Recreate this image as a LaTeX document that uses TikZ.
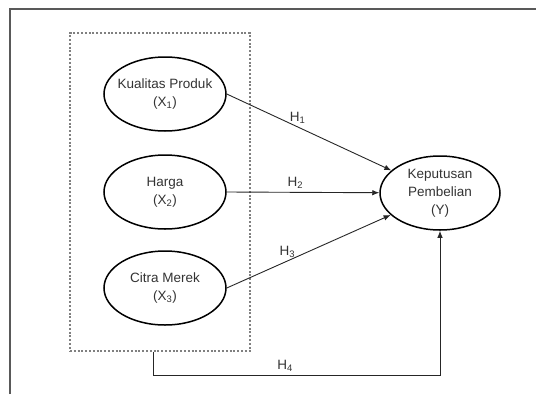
\documentclass[tikz,border=0pt]{standalone}
\usepackage{fontspec}
\setmainfont{Liberation Sans}
\usetikzlibrary{shapes.geometric}
\usetikzlibrary{arrows.meta}

\begin{document}
\begin{tikzpicture}[x=1pt, y=-1pt,
    var/.style={ellipse, draw=black, line width=1.5pt, minimum width=122pt,
        minimum height=74pt, inner sep=0pt, align=center,
        font=\fontsize{13.5}{18}\selectfont, text=black!80},
    link/.style={color=black!85, line width=0.9pt, -{Latex[length=7pt, width=5.5pt]}},
    hyp/.style={font=\fontsize{13.5}{15}\selectfont, inner sep=3pt, text=black!80}]
    \useasboundingbox (0,0) rectangle (536,394);
    \draw[color=black!65, line width=2pt] (10,394) -- (10,9) -- (536,9);

    \node[draw=black!50, line width=1.1pt, dash pattern=on 2pt off 1.8pt,
        minimum width=180pt, minimum height=318pt, inner sep=0pt] (grp) at (160,192) {};

    \node[var, inner xsep=-5pt] (x1) at (165,94) {Kualitas Produk\\(X\textsubscript{1})};
    \node[var] (x2) at (165,192) {Harga\\(X\textsubscript{2})};
    \node[var] (x3) at (165,288) {Citra Merek\\(X\textsubscript{3})};
    \node[var, minimum width=120pt] (y) at (440,193) {Keputusan\\Pembelian\\(Y)};

    \draw[link] (x1.east) -- node[hyp, pos=0.43, above] {H\textsubscript{1}} (y);
    \draw[link] (x2.east) -- node[hyp, pos=0.45, above] {H\textsubscript{2}} (y);
    \draw[link] (x3.east) -- node[hyp, pos=0.37, above] {H\textsubscript{3}} (y);

    \coordinate (h4) at (153,375);
    \draw[link] (grp.south -| h4) -- (h4)
        -- node[hyp, pos=0.46, above] {H\textsubscript{4}} (h4 -| y.south) -- (y.south);
\end{tikzpicture}
\end{document}
